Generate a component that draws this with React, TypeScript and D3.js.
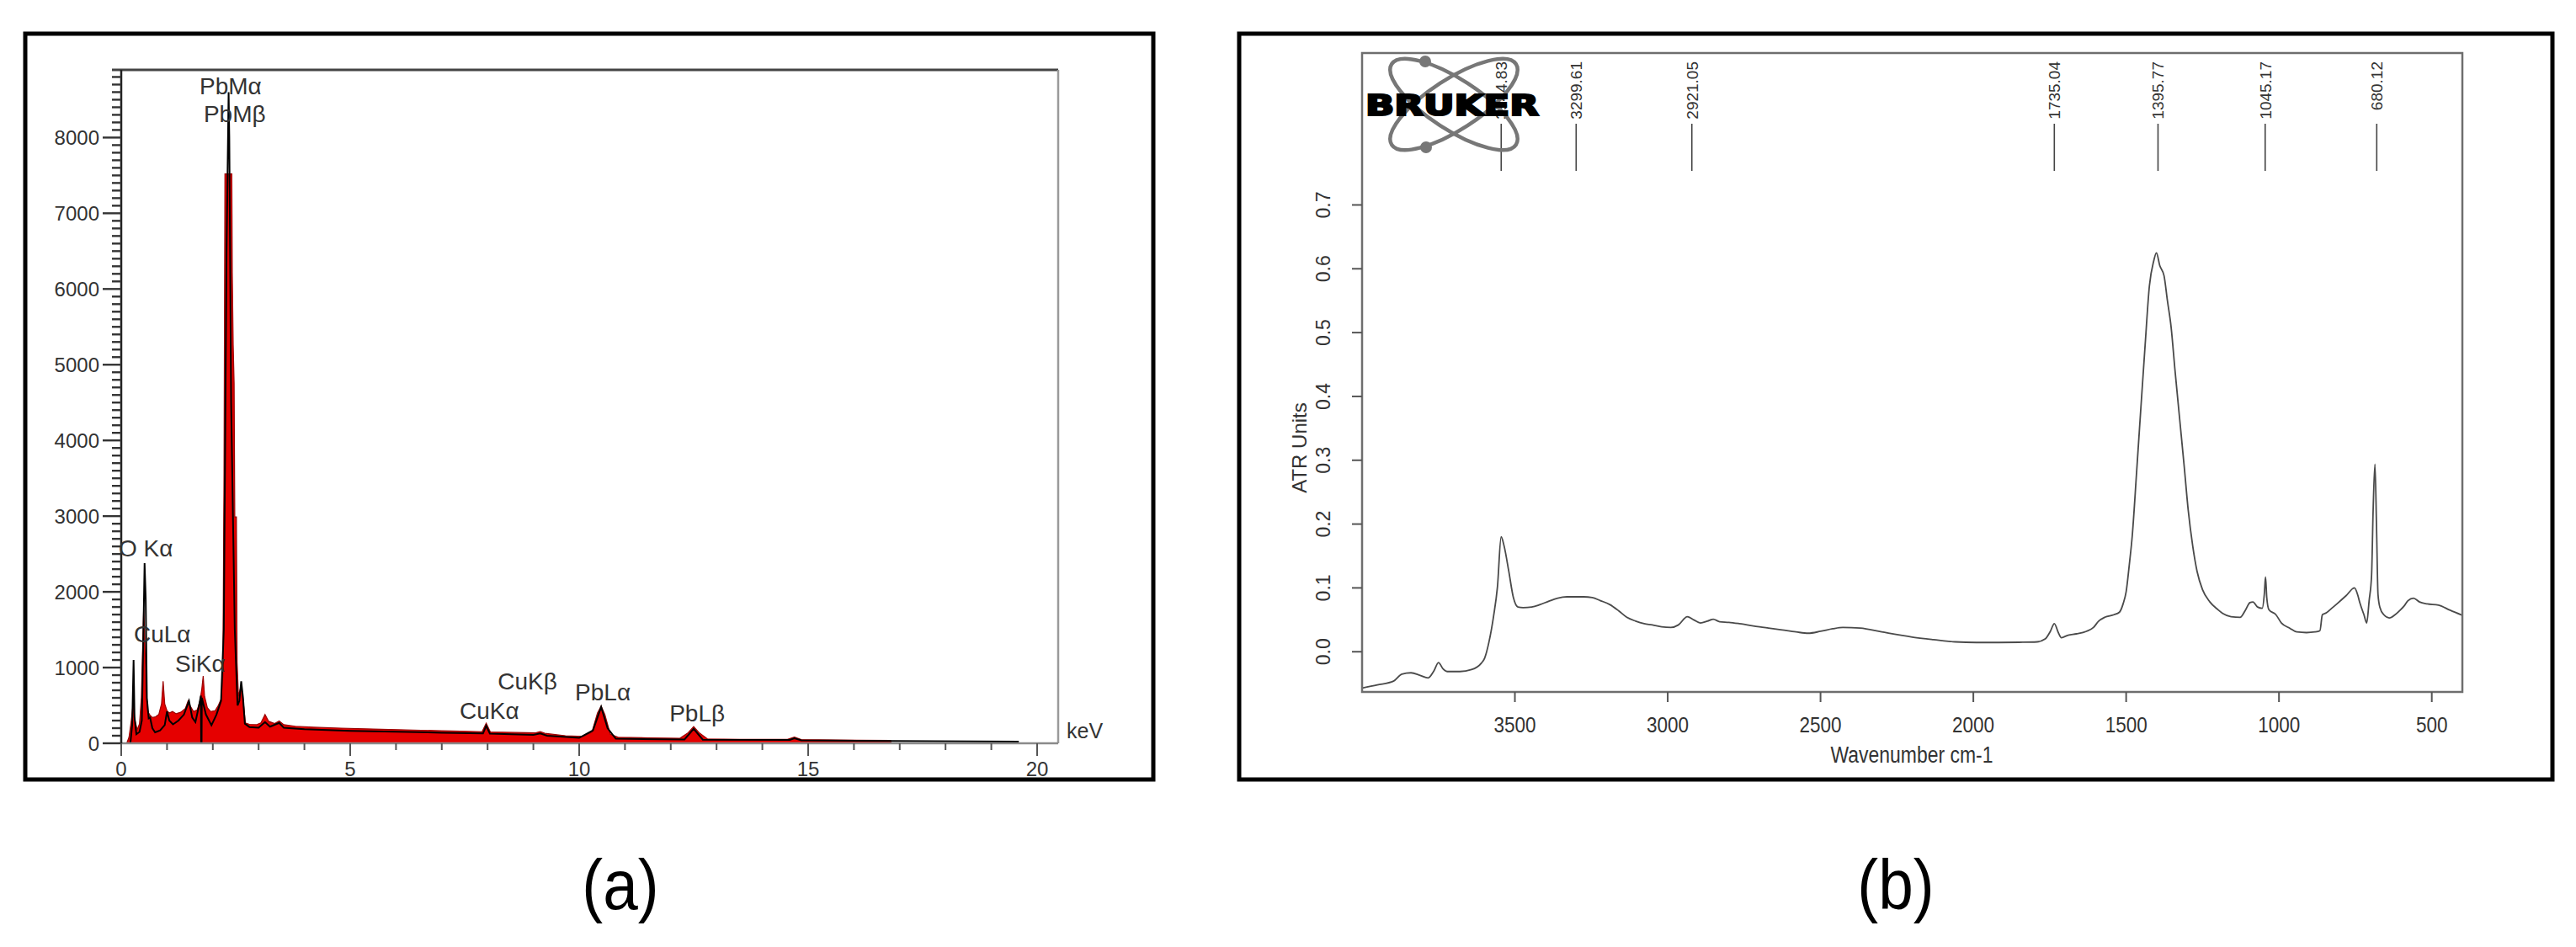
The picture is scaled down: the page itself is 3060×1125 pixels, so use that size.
import React from "react";
import * as d3 from "d3";

// ---------- (a) EDS spectrum ----------
const edsRedKeV = [0, 0.12, 0.17, 0.22, 0.26, 0.30, 0.35, 0.40, 0.44, 0.47, 0.49, 0.51, 0.54, 0.58, 0.63, 0.68, 0.75, 0.82, 0.88, 0.915, 0.95, 1.00, 1.05, 1.12, 1.20, 1.30, 1.40, 1.46, 1.50, 1.58, 1.66, 1.72, 1.76, 1.79, 1.82, 1.88, 1.95, 2.05, 2.12, 2.18, 2.22, 2.245, 2.265, 2.415, 2.425, 2.445, 2.465, 2.48, 2.515, 2.53, 2.56, 2.60, 2.63, 2.67, 2.71, 2.80, 2.95, 3.05, 3.14, 3.22, 3.35, 3.45, 3.55, 3.8, 4.2, 4.8, 5.5, 6.2, 7.0, 7.6, 7.88, 7.97, 8.06, 8.6, 9.05, 9.15, 9.25, 9.7, 10.1, 10.28, 10.40, 10.48, 10.56, 10.68, 10.85, 11.5, 12.2, 12.38, 12.50, 12.62, 12.80, 13.5, 14.55, 14.7, 14.85, 15.6, 16.8, 16.81];
const edsRedCounts = [0, 0, 80, 300, 520, 300, 180, 260, 600, 1300, 1770, 1500, 700, 420, 370, 340, 350, 380, 520, 820, 520, 430, 400, 420, 390, 410, 460, 560, 500, 420, 440, 560, 720, 890, 620, 470, 420, 430, 500, 580, 900, 3590, 7520, 7520, 6210, 5260, 4760, 2990, 2990, 1070, 620, 720, 700, 520, 270, 250, 245, 270, 380, 290, 260, 295, 245, 225, 212, 200, 188, 178, 165, 156, 152, 265, 150, 143, 138, 155, 132, 100, 92, 150, 400, 490, 380, 120, 80, 72, 66, 140, 220, 140, 58, 52, 52, 82, 48, 42, 38, 0];

const edsBlackKeV = [0, 0.20, 0.24, 0.27, 0.29, 0.33, 0.40, 0.45, 0.48, 0.51, 0.535, 0.56, 0.60, 0.63, 0.68, 0.74, 0.85, 0.95, 1.00, 1.05, 1.13, 1.25, 1.37, 1.48, 1.55, 1.62, 1.70, 1.74, 1.745, 1.755, 1.76, 1.85, 1.97, 2.08, 2.18, 2.24, 2.30, 2.345, 2.36, 2.40, 2.48, 2.54, 2.58, 2.62, 2.66, 2.70, 2.80, 3.0, 3.14, 3.25, 3.45, 3.55, 4.0, 5.0, 6.0, 7.0, 7.9, 7.97, 8.05, 9.0, 9.15, 9.3, 10.0, 10.3, 10.48, 10.62, 10.8, 12.3, 12.5, 12.7, 14.6, 14.7, 14.85, 16.8, 19.6];
const edsBlackCounts = [0, 0, 250, 1100, 350, 120, 150, 300, 1300, 2380, 1900, 600, 330, 340, 200, 145, 170, 240, 420, 300, 250, 300, 380, 560, 340, 280, 500, 630, 0, 0, 600, 380, 238, 380, 560, 1500, 6500, 8600, 8000, 4500, 1500, 500, 560, 820, 600, 260, 215, 205, 280, 220, 270, 205, 185, 165, 152, 140, 130, 230, 128, 112, 130, 100, 72, 170, 480, 200, 60, 50, 190, 48, 45, 65, 38, 30, 22];

const edsYTicks = [0, 1000, 2000, 3000, 4000, 5000, 6000, 7000, 8000];
const edsXTicks = [0, 5, 10, 15, 20];
const edsLabelText = ["PbMα", "PbMβ", "O Kα", "CuLα", "SiKα", "CuKβ", "CuKα", "PbLα", "PbLβ"];
const edsLabelKeV = [1.71, 1.8, -0.055, 0.276, 1.176, 8.22, 7.39, 9.91, 11.97];
const edsLabelCounts = [8571, 8200, 2468, 1334, 945, 712, 322, 567, 289];

// ---------- (b) FTIR spectrum ----------
const ftirWavenumber = [4000, 3950, 3897, 3870, 3840, 3810, 3784, 3765, 3750, 3735, 3722, 3680, 3642, 3610, 3599, 3585, 3570, 3557, 3545, 3535, 3520, 3505, 3490, 3473, 3445, 3417, 3390, 3360, 3330, 3303, 3275, 3247, 3220, 3190, 3160, 3134, 3105, 3077, 3050, 3020, 2990, 2965, 2936, 2915, 2893, 2870, 2851, 2830, 2800, 2766, 2700, 2625, 2580, 2540, 2500, 2460, 2427, 2370, 2300, 2200, 2130, 2059, 1990, 1918, 1850, 1791, 1765, 1748, 1735, 1722, 1712, 1690, 1663, 1630, 1607, 1590, 1570, 1540, 1522, 1510, 1500, 1490, 1480, 1466, 1452, 1438, 1424, 1410, 1401, 1390, 1376, 1365, 1353, 1340, 1325, 1310, 1297, 1282, 1268, 1250, 1226, 1200, 1184, 1157, 1127, 1110, 1095, 1085, 1070, 1055, 1048, 1044, 1040, 1033, 1010, 992, 965, 942, 910, 882, 866, 858, 845, 825, 808, 780, 753, 743, 735, 722, 713, 705, 697, 692, 686, 681, 676, 670, 657, 639, 620, 606, 590, 578, 560, 540, 515, 478, 440, 400];
const ftirAbsorbance = [-0.057, -0.052, -0.046, -0.035, -0.033, -0.037, -0.041, -0.030, -0.017, -0.027, -0.031, -0.031, -0.028, -0.018, -0.010, 0.015, 0.055, 0.102, 0.180, 0.165, 0.126, 0.085, 0.070, 0.069, 0.070, 0.074, 0.079, 0.084, 0.086, 0.086, 0.086, 0.085, 0.080, 0.074, 0.064, 0.054, 0.048, 0.044, 0.042, 0.039, 0.038, 0.042, 0.055, 0.050, 0.045, 0.048, 0.051, 0.047, 0.046, 0.044, 0.039, 0.034, 0.031, 0.029, 0.032, 0.036, 0.038, 0.037, 0.031, 0.023, 0.019, 0.0155, 0.0145, 0.0145, 0.0148, 0.0155, 0.020, 0.032, 0.044, 0.030, 0.022, 0.026, 0.028, 0.032, 0.038, 0.048, 0.054, 0.058, 0.062, 0.075, 0.094, 0.135, 0.182, 0.280, 0.381, 0.480, 0.573, 0.612, 0.625, 0.605, 0.589, 0.550, 0.509, 0.440, 0.365, 0.290, 0.222, 0.165, 0.126, 0.097, 0.078, 0.066, 0.060, 0.055, 0.054, 0.065, 0.077, 0.078, 0.070, 0.068, 0.090, 0.117, 0.085, 0.066, 0.058, 0.045, 0.037, 0.031, 0.030, 0.031, 0.033, 0.058, 0.061, 0.069, 0.076, 0.088, 0.100, 0.090, 0.076, 0.058, 0.045, 0.080, 0.120, 0.220, 0.294, 0.200, 0.090, 0.070, 0.058, 0.053, 0.058, 0.064, 0.072, 0.080, 0.084, 0.078, 0.075, 0.073, 0.065, 0.057];
const ftirPeaks = [3544.83, 3299.61, 2921.05, 1735.04, 1395.77, 1045.17, 680.12];
const ftirYTicks = [0, 0.1, 0.2, 0.3, 0.4, 0.5, 0.6, 0.7];
const ftirXTicks = [3500, 3000, 2500, 2000, 1500, 1000, 500];

const FONT = '"Liberation Sans", Arial, Helvetica, sans-serif';
const TXT = "#333";

export default function App() {
  const xE = d3.scaleLinear().domain([0, 20.46]).range([144, 1257]);
  const yE = d3.scaleLinear().domain([0, 8894]).range([883, 83]);
  const xF = d3.scaleLinear().domain([4000, 400]).range([1618, 2925]);
  const yF = d3.scaleLinear().domain([-0.063, 0.938]).range([822, 63]);

  const red: [number, number][] = edsRedKeV.map((k, i) => [k, edsRedCounts[i]]);
  const black: [number, number][] = edsBlackKeV.map((k, i) => [k, edsBlackCounts[i]]);
  const ftir: [number, number][] = ftirWavenumber.map((w, i) => [w, ftirAbsorbance[i]]);

  const redArea = d3
    .area<[number, number]>()
    .x((d) => xE(d[0]))
    .y0(yE(0))
    .y1((d) => yE(d[1]))
    .curve(d3.curveLinear)(red) as string;
  const blackLine = d3
    .line<[number, number]>()
    .x((d) => xE(d[0]))
    .y((d) => yE(d[1]))
    .curve(d3.curveLinear)(black) as string;
  const ftirLine = d3
    .line<[number, number]>()
    .x((d) => xF(d[0]))
    .y((d) => yF(d[1]))
    .curve(d3.curveMonotoneX)(ftir) as string;

  const minorY = d3.range(0, 8801, 100);
  const minorX = d3.range(0, 21, 1);

  const [e0, e1] = xE.range();
  const [eb, et] = yE.range();
  const [f0, f1] = xF.range();
  const [fb, ft] = yF.range();

  return (
    <div>
      <style>{`html,body{margin:0;padding:0;background:#fff}`}</style>
      <svg width={3060} height={1125} style={{ display: "block", background: "#fff" }} fontFamily={FONT}>
        <defs>
          <clipPath id="clipE">
            <rect x={e0} y={et} width={e1 - e0} height={eb - et} />
          </clipPath>
          <clipPath id="clipF">
            <rect x={f0} y={ft} width={f1 - f0} height={fb - ft} />
          </clipPath>
        </defs>

        {/* ================= Panel (a) ================= */}
        <rect x={30} y={40} width={1340} height={886} fill="none" stroke="#000" strokeWidth={5} />

        <g clipPath="url(#clipE)">
          <path d={redArea} fill="#e50000" stroke="#9a0000" strokeWidth={1.2} />
          <path d={blackLine} fill="none" stroke="#000" strokeWidth={2} />
        </g>

        <line x1={133} x2={e1} y1={et} y2={et} stroke="#444" strokeWidth={3} />
        <line x1={e1} x2={e1} y1={et} y2={eb} stroke="#9a9a9a" strokeWidth={2.5} />
        <line x1={e0} x2={e1} y1={eb} y2={eb} stroke="#8a8a8a" strokeWidth={2.5} />
        <line x1={e0} x2={e0} y1={et} y2={eb} stroke="#222" strokeWidth={2.5} />

        {minorY.map((v) => (
          <line key={"my" + v} x1={e0 - (v % 1000 === 0 ? 22 : 11)} x2={e0} y1={yE(v)} y2={yE(v)} stroke="#333" strokeWidth={2.4} />
        ))}
        {edsYTicks.map((v) => (
          <text key={"ly" + v} x={118} y={yE(v) + 8.5} fontSize={24} fill={TXT} textAnchor="end">
            {v}
          </text>
        ))}

        {minorX.map((v) => (
          <line key={"mx" + v} x1={xE(v)} x2={xE(v)} y1={eb} y2={eb + (v % 5 === 0 ? 15 : 8)} stroke="#555" strokeWidth={2} />
        ))}
        {edsXTicks.map((v) => (
          <text key={"lx" + v} x={xE(v)} y={922} fontSize={24} fill={TXT} textAnchor="middle">
            {v}
          </text>
        ))}
        <text x={1267} y={877} fontSize={25} fill={TXT}>keV</text>

        {edsLabelText.map((t, i) => (
          <text key={"el" + i} x={xE(edsLabelKeV[i])} y={yE(edsLabelCounts[i])} fontSize={28} fill={TXT}>
            {t}
          </text>
        ))}

        <text transform="translate(737,1080) scale(0.9,1)" fontSize={83} fill="#000" textAnchor="middle">
          (a)
        </text>

        {/* ================= Panel (b) ================= */}
        <rect x={1472} y={40} width={1560} height={886} fill="none" stroke="#000" strokeWidth={5} />

        <g clipPath="url(#clipF)">
          <path d={ftirLine} fill="none" stroke="#4a4a4a" strokeWidth={1.8} />
        </g>
        <rect x={f0} y={ft} width={f1 - f0} height={fb - ft} fill="none" stroke="#6e6e6e" strokeWidth={2.5} />

        {ftirPeaks.map((p) => (
          <g key={"pk" + p}>
            <line x1={xF(p)} x2={xF(p)} y1={147} y2={203} stroke="#444" strokeWidth={1.6} />
            <text transform={`translate(${xF(p) + 7},73) rotate(-90)`} fontSize={19} fill={TXT} textAnchor="end">
              {p.toFixed(2)}
            </text>
          </g>
        ))}

        {/* Bruker logo */}
        <g>
          <ellipse cx={1727} cy={124} rx={88} ry={30} transform="rotate(33 1727 124)" fill="none" stroke="#777" strokeWidth={4.5} />
          <ellipse cx={1727} cy={124} rx={88} ry={30} transform="rotate(-33 1727 124)" fill="none" stroke="#777" strokeWidth={4.5} />
          <circle cx={1693} cy={73} r={7} fill="#777" />
          <circle cx={1694} cy={175} r={7} fill="#777" />
          <text x={1622} y={137} fontSize={33} fontWeight={700} fontFamily='"DejaVu Sans", sans-serif' fill="#000" stroke="#000" strokeWidth={2.2} textLength={206} lengthAdjust="spacingAndGlyphs">
            BRUKER
          </text>
        </g>

        {ftirYTicks.map((v) => (
          <g key={"fy" + v}>
            <line x1={f0 - 12} x2={f0} y1={yF(v)} y2={yF(v)} stroke="#555" strokeWidth={2} />
            <text transform={`translate(1580,${yF(v)}) rotate(-90)`} fontSize={23} fill={TXT} textAnchor="middle">
              {v.toFixed(1)}
            </text>
          </g>
        ))}
        <text transform="translate(1552,532) rotate(-90)" fontSize={24} fill={TXT} textAnchor="middle">
          ATR Units
        </text>

        {ftirXTicks.map((v) => (
          <g key={"fx" + v}>
            <line x1={xF(v)} x2={xF(v)} y1={fb} y2={fb + 12} stroke="#555" strokeWidth={2} />
            <text transform={`translate(${xF(v)},870) scale(0.9,1)`} fontSize={25} fill={TXT} textAnchor="middle">
              {v}
            </text>
          </g>
        ))}
        <text transform="translate(2271,906) scale(0.85,1)" fontSize={27} fill={TXT} textAnchor="middle">
          Wavenumber cm-1
        </text>

        <text transform="translate(2252,1080) scale(0.9,1)" fontSize={83} fill="#000" textAnchor="middle">
          (b)
        </text>
      </svg>
    </div>
  );
}
